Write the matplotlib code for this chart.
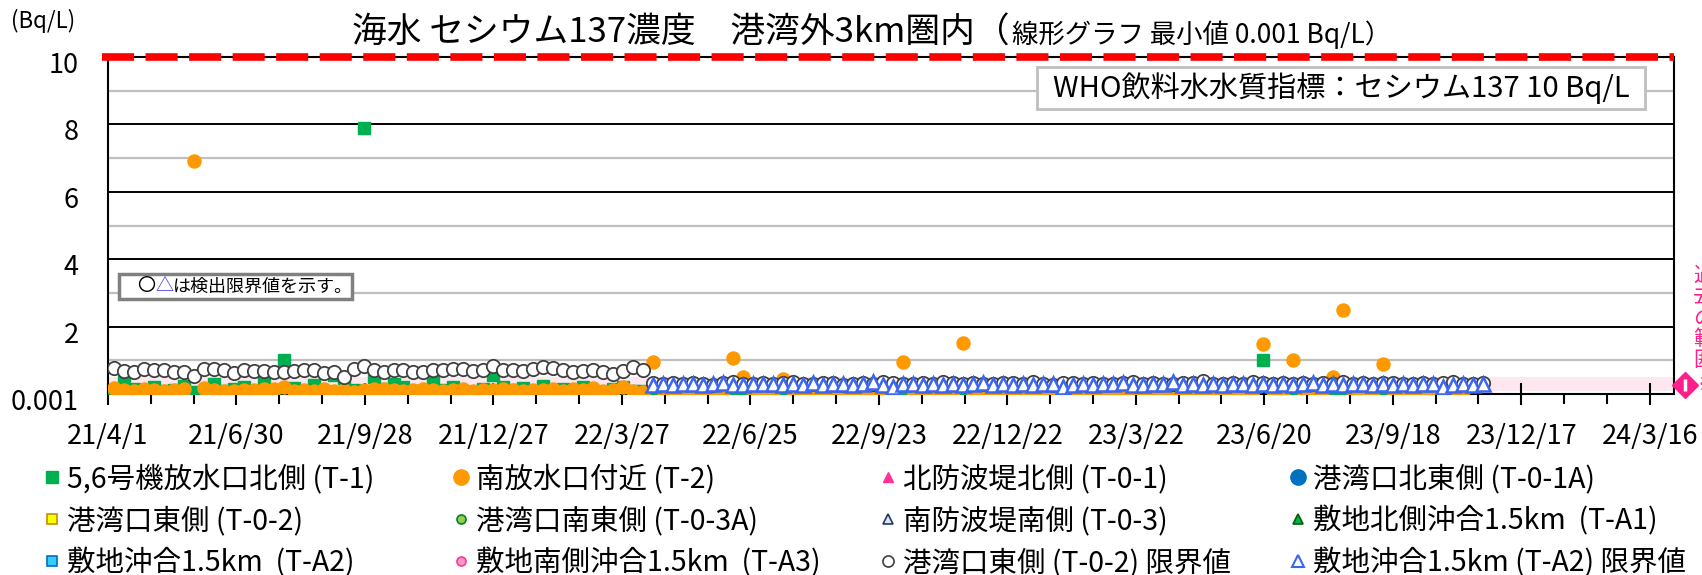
import numpy as np
import pandas as pd
import matplotlib
matplotlib.use('Agg')
import matplotlib.pyplot as plt
from matplotlib.lines import Line2D
from matplotlib.patches import Rectangle
from matplotlib.ticker import FixedLocator, FixedFormatter, NullFormatter
from matplotlib.transforms import ScaledTranslation
import matplotlib.dates as mdates

plt.rcParams['font.family'] = ['Noto Sans CJK JP', 'DejaVu Sans']

# weekly samples (Bq/L)
t1_start = '2021-04-05'   # 5,6号機放水口北側 (T-1)
t1_vals = [0.10, 0.35, 0.15, 0.05, 0.20, 0.08, 0.12, 0.25, 0.06, 0.10,
           0.30, 0.08, 0.15, 0.22, 0.10, 0.35, 0.12, 1.00, 0.18, 0.05,
           0.28, 0.10, 0.55, 0.48, 0.12, 7.90, 0.50, 0.15, 0.30, 0.20,
           0.10, 0.08, 0.45, 0.12, 0.20, 0.10, 0.06, 0.15, 0.55, 0.20,
           0.12, 0.18, 0.10, 0.25, 0.08, 0.15, 0.12, 0.20, 0.10, 0.06,
           0.14, 0.22, 0.10, 0.08, 0.12, 0.05, 0.10, 0.07, 0.12, 0.09,
           0.06, 0.11, 0.08, 0.10, 0.05, 0.12, 0.07, 0.09, 0.04, 0.10,
           0.08, 0.12, 0.06, 0.09, 0.07, 0.11, 0.05, 0.08, 0.10, 0.06,
           0.09, 0.07, 0.12, 0.05, 0.08, 0.10, 0.06, 0.09, 0.07, 0.11,
           0.05, 0.08, 0.10, 0.06, 0.12, 0.09, 0.07, 0.10, 0.05, 0.08,
           0.11, 0.06, 0.09, 0.07, 0.12, 0.05, 0.08, 0.10, 0.06, 0.09,
           0.07, 0.11, 0.05, 0.08, 0.10, 1.00, 0.06, 0.09, 0.07, 0.12,
           0.05, 0.08, 0.10, 0.06, 0.12, 0.07, 0.09, 0.05, 0.10, 0.08,
           0.11, 0.06, 0.09, 0.07, 0.10, 0.08]

t2_start = '2021-04-05'   # 南放水口付近 (T-2)
t2_vals = [0.18, 0.12, 0.10, 0.14, 0.11, 0.09, 0.13, 0.15, 6.90, 0.17,
           0.12, 0.10, 0.09, 0.13, 0.11, 0.14, 0.16, 0.20, 0.08, 0.12,
           0.10, 0.15, 0.09, 0.13, 0.07, 0.11, 0.14, 0.16, 0.12, 0.10,
           0.13, 0.15, 0.11, 0.09, 0.12, 0.14, 0.10, 0.13, 0.11, 0.15,
           0.12, 0.09, 0.13, 0.11, 0.14, 0.10, 0.16, 0.12, 0.18, 0.09,
           0.13, 0.20, 0.10, 0.06, 0.95, 0.12, 0.08, 0.14, 0.10, 0.07,
           0.11, 0.09, 1.07, 0.50, 0.10, 0.13, 0.08, 0.45, 0.12, 0.15,
           0.09, 0.11, 0.14, 0.10, 0.08, 0.12, 0.16, 0.10, 0.13, 0.95,
           0.11, 0.09, 0.12, 0.14, 0.10, 1.50, 0.08, 0.11, 0.13, 0.07,
           0.10, 0.12, 0.09, 0.14, 0.11, 0.08, 0.13, 0.10, 0.15, 0.09,
           0.12, 0.07, 0.11, 0.14, 0.10, 0.13, 0.08, 0.12, 0.16, 0.09,
           0.11, 0.14, 0.10, 0.07, 0.12, 1.48, 0.13, 0.09, 1.02, 0.11,
           0.08, 0.14, 0.50, 2.48, 0.10, 0.12, 0.09, 0.90, 0.13, 0.08,
           0.11, 0.14, 0.10, 0.12, 0.09, 0.13]

t02_lim_start = '2021-04-05'   # 港湾口東側 (T-0-2) 限界値
t02_lim_vals = [0.78, 0.68, 0.64, 0.74, 0.70, 0.70, 0.66, 0.66, 0.52, 0.74,
                0.74, 0.72, 0.62, 0.70, 0.68, 0.68, 0.66, 0.64, 0.68, 0.70,
                0.70, 0.62, 0.66, 0.50, 0.74, 0.82, 0.72, 0.66, 0.72, 0.72,
                0.66, 0.64, 0.70, 0.72, 0.74, 0.74, 0.68, 0.72, 0.84, 0.70,
                0.70, 0.68, 0.74, 0.80, 0.76, 0.70, 0.66, 0.68, 0.70, 0.64,
                0.60, 0.68, 0.80, 0.72,
                0.32, 0.30, 0.34, 0.31, 0.33, 0.30, 0.28, 0.32, 0.35, 0.31,
                0.30, 0.33, 0.29, 0.32, 0.36, 0.31, 0.30, 0.34, 0.32, 0.28,
                0.31, 0.33, 0.30, 0.35, 0.32, 0.30, 0.29, 0.33, 0.31, 0.36,
                0.32, 0.30, 0.34, 0.31, 0.29, 0.33, 0.32, 0.30, 0.35, 0.31,
                0.28, 0.32, 0.34, 0.30, 0.33, 0.31, 0.29, 0.32, 0.36, 0.30,
                0.33, 0.31, 0.30, 0.34, 0.32, 0.38, 0.31, 0.29, 0.33, 0.30,
                0.35, 0.32, 0.30, 0.34, 0.31, 0.33, 0.29, 0.32, 0.30, 0.35,
                0.31, 0.33, 0.30, 0.32, 0.34, 0.31, 0.29, 0.33, 0.30, 0.32,
                0.35, 0.31, 0.30, 0.33]

ta2_lim_start = '2022-04-18'   # 敷地沖合1.5km (T-A2) 限界値
ta2_lim_vals = [0.28, 0.30, 0.26, 0.31, 0.29, 0.27, 0.30, 0.32, 0.28, 0.26,
                0.30, 0.29, 0.31, 0.27, 0.30, 0.28, 0.33, 0.26, 0.29, 0.31,
                0.27, 0.30, 0.36, 0.28, 0.22, 0.30, 0.29, 0.27, 0.31, 0.28,
                0.30, 0.26, 0.29, 0.32, 0.27, 0.30, 0.28, 0.31, 0.26, 0.29,
                0.30, 0.22, 0.28, 0.31, 0.27, 0.30, 0.29, 0.33, 0.28, 0.26,
                0.30, 0.29, 0.36, 0.27, 0.30, 0.28, 0.31, 0.26, 0.29, 0.30,
                0.27, 0.31, 0.28, 0.30, 0.26, 0.29, 0.32, 0.27, 0.30, 0.28,
                0.31, 0.29, 0.26, 0.30, 0.28, 0.31, 0.27, 0.29, 0.30, 0.22,
                0.28, 0.31, 0.27, 0.30]

who_limit = 10
normal_range = (0.1, 0.5)   # 過去の範囲 band

legend_labels = ['5,6号機放水口北側 (T-1)', '港湾口東側 (T-0-2)', '敷地沖合1.5km  (T-A2)',
                 '南放水口付近 (T-2)', '港湾口南東側 (T-0-3A)', '敷地南側沖合1.5km  (T-A3)',
                 '北防波堤北側 (T-0-1)', '南防波堤南側 (T-0-3)', '港湾口東側 (T-0-2) 限界値',
                 '港湾口北東側 (T-0-1A)', '敷地北側沖合1.5km  (T-A1)', '敷地沖合1.5km (T-A2) 限界値']


def weekly(start, vals):
    return pd.date_range(start, periods=len(vals), freq='7D')


W, H = 1702, 575
fig = plt.figure(figsize=(W / 100, H / 100), dpi=100)
ax = fig.add_axes([108 / W, 1 - 394 / H, (1674 - 108) / W, (394 - 57) / H])

ax.axhspan(*normal_range, color='#fde7f0', zorder=0.5, lw=0)

ax.plot(weekly(t1_start, t1_vals), t1_vals, ls='none', marker='s', ms=8.8,
        mfc='#00b050', mec='#00b050', zorder=3)
ax.plot(weekly(t2_start, t2_vals), t2_vals, ls='none', marker='o', ms=9.4,
        mfc='#ff9900', mec='#ff9900', zorder=4)
ax.plot(weekly(t02_lim_start, t02_lim_vals), t02_lim_vals, ls='none', marker='o', ms=9.6,
        mfc='white', mec='#404040', mew=1.3, zorder=5)
ax.plot(weekly(ta2_lim_start, ta2_lim_vals), ta2_lim_vals, ls='none', marker='^', ms=10,
        mfc='white', mec='#3a66f0', mew=1.8, zorder=6)

ax.axhline(who_limit, xmin=-0.004, xmax=1.0, color='red', lw=5.5, ls=(0, (4.2, 1.5)),
           clip_on=False, zorder=7)

# axes
ax.set_ylim(0, 10)
ax.set_xlim(pd.Timestamp('2021-04-01'), pd.Timestamp('2024-04-02'))
ax.set_yticks([0, 2, 4, 6, 8, 10])
ax.set_yticklabels(['0.001', '2', '4', '6', '8', '10'])
ax.set_yticks([1, 3, 5, 7, 9], minor=True)
ax.grid(axis='y', which='major', color='black', lw=1.4)
ax.grid(axis='y', which='minor', color='#bfbfbf', lw=1.6)
ax.set_axisbelow(True)

major = pd.date_range('2021-04-01', periods=13, freq='90D')
minor = pd.date_range('2021-04-01', '2024-04-01', freq='30D')
ax.xaxis.set_major_locator(FixedLocator(mdates.date2num(major)))
ax.xaxis.set_major_formatter(FixedFormatter([f'{d.year % 100}/{d.month}/{d.day}' for d in major]))
ax.xaxis.set_minor_locator(FixedLocator(mdates.date2num(minor)))
ax.xaxis.set_minor_formatter(NullFormatter())

ax.tick_params(axis='y', which='both', length=0, pad=21, labelsize=19.5)
ax.tick_params(axis='x', which='major', direction='inout', length=16, width=1.5,
               pad=13, labelsize=19.5)
ax.tick_params(axis='x', which='minor', direction='out', length=7, width=1.5)
for lab in ax.get_yticklabels():
    lab.set_transform(lab.get_transform() + ScaledTranslation(0, -4 / 72, fig.dpi_scale_trans))
for s in ax.spines.values():
    s.set_linewidth(1.5)
    s.set_color('black')

# titles / labels
fig.text(11 / W, 1 - 21 / H, '(Bq/L)', fontsize=16, ha='left', va='center')
fig.text(1010 / W, 1 - 43 / H, '海水 セシウム137濃度\u3000港湾外3km圏内（', fontsize=25,
         ha='right', va='baseline')
fig.text(1012 / W, 1 - 43 / H, '線形グラフ 最小値 0.001 Bq/L）', fontsize=19,
         ha='left', va='baseline')

# WHO box
fig.patches.append(Rectangle((1037 / W, 1 - 109 / H), 608 / W, 42 / H, transform=fig.transFigure,
                             facecolor='white', edgecolor='#bfbfbf', lw=2, zorder=8))
fig.text((1037 + 1645) / 2 / W, 1 - 88 / H, 'WHO飲料水水質指標：セシウム137 10 Bq/L',
         fontsize=21, ha='center', va='center', zorder=9)

# detection-limit note
fig.patches.append(Rectangle((119 / W, 1 - 299 / H), 233 / W, 25 / H, transform=fig.transFigure,
                             facecolor='white', edgecolor='#808080', lw=2.5, zorder=8))
fig.text(137 / W, 1 - 286.5 / H, '〇', fontsize=13, ha='left', va='center', zorder=9)
fig.text(155 / W, 1 - 286.5 / H, '△', fontsize=13, ha='left', va='center', color='#3333dd', zorder=9)
fig.text(173 / W, 1 - 286.5 / H, 'は検出限界値を示す。', fontsize=13, ha='left', va='center', zorder=9)

# right-hand range marker
pink = '#ff1f8a'
fig.lines.append(Line2D([1685 / W], [1 - 385 / H], marker='D', ms=13, color=pink,
                        transform=fig.transFigure))
fig.lines.append(Line2D([1685 / W], [1 - 385 / H], marker='|', ms=9, mew=2.5, color='white',
                        transform=fig.transFigure))
fig.text(1697 / W, 1 - 385 / H, '※', fontsize=13, color=pink, ha='left', va='center')
for k, ch in enumerate('過去の範囲'):
    fig.text(1693 / W, 1 - (276 + 21 * k) / H, ch, fontsize=15, color=pink, ha='left', va='center')

# legend
handles = [
    Line2D([], [], ls='none', marker='s', ms=9, mfc='#00b050', mec='#00b050'),
    Line2D([], [], ls='none', marker='s', ms=6.5, mfc='#ffff00', mec='#c09000', mew=1.2),
    Line2D([], [], ls='none', marker='s', ms=6.5, mfc='#33ccff', mec='#0070c0', mew=1.2),
    Line2D([], [], ls='none', marker='o', ms=11, mfc='#ff9900', mec='#ff9900'),
    Line2D([], [], ls='none', marker='o', ms=6.5, mfc='#92d050', mec='#00802b', mew=1.2),
    Line2D([], [], ls='none', marker='o', ms=6.5, mfc='#ff99cc', mec='#ff3399', mew=1.2),
    Line2D([], [], ls='none', marker='^', ms=7, mfc='#ff3399', mec='#ff3399'),
    Line2D([], [], ls='none', marker='^', ms=7, mfc='#dbe5f5', mec='#1f3864', mew=1.2),
    Line2D([], [], ls='none', marker='o', ms=8, mfc='white', mec='#404040', mew=1.2),
    Line2D([], [], ls='none', marker='o', ms=11, mfc='#0070c0', mec='#0070c0'),
    Line2D([], [], ls='none', marker='^', ms=7, mfc='#00b050', mec='#006000', mew=1.2),
    Line2D([], [], ls='none', marker='^', ms=9, mfc='white', mec='#3a66f0', mew=1.5),
]
col_x = [52, 461, 888, 1298]
for c in range(4):
    fig.legend(handles[3 * c:3 * c + 3], legend_labels[3 * c:3 * c + 3], loc='upper left',
               bbox_to_anchor=((col_x[c] - 8.75) / W, 1 - 464 / H), frameon=False, fontsize=20.5,
               handlelength=0.6, handletextpad=0.24, borderpad=0, borderaxespad=0,
               labelspacing=0.42)

fig.savefig('out.png', dpi=100)
